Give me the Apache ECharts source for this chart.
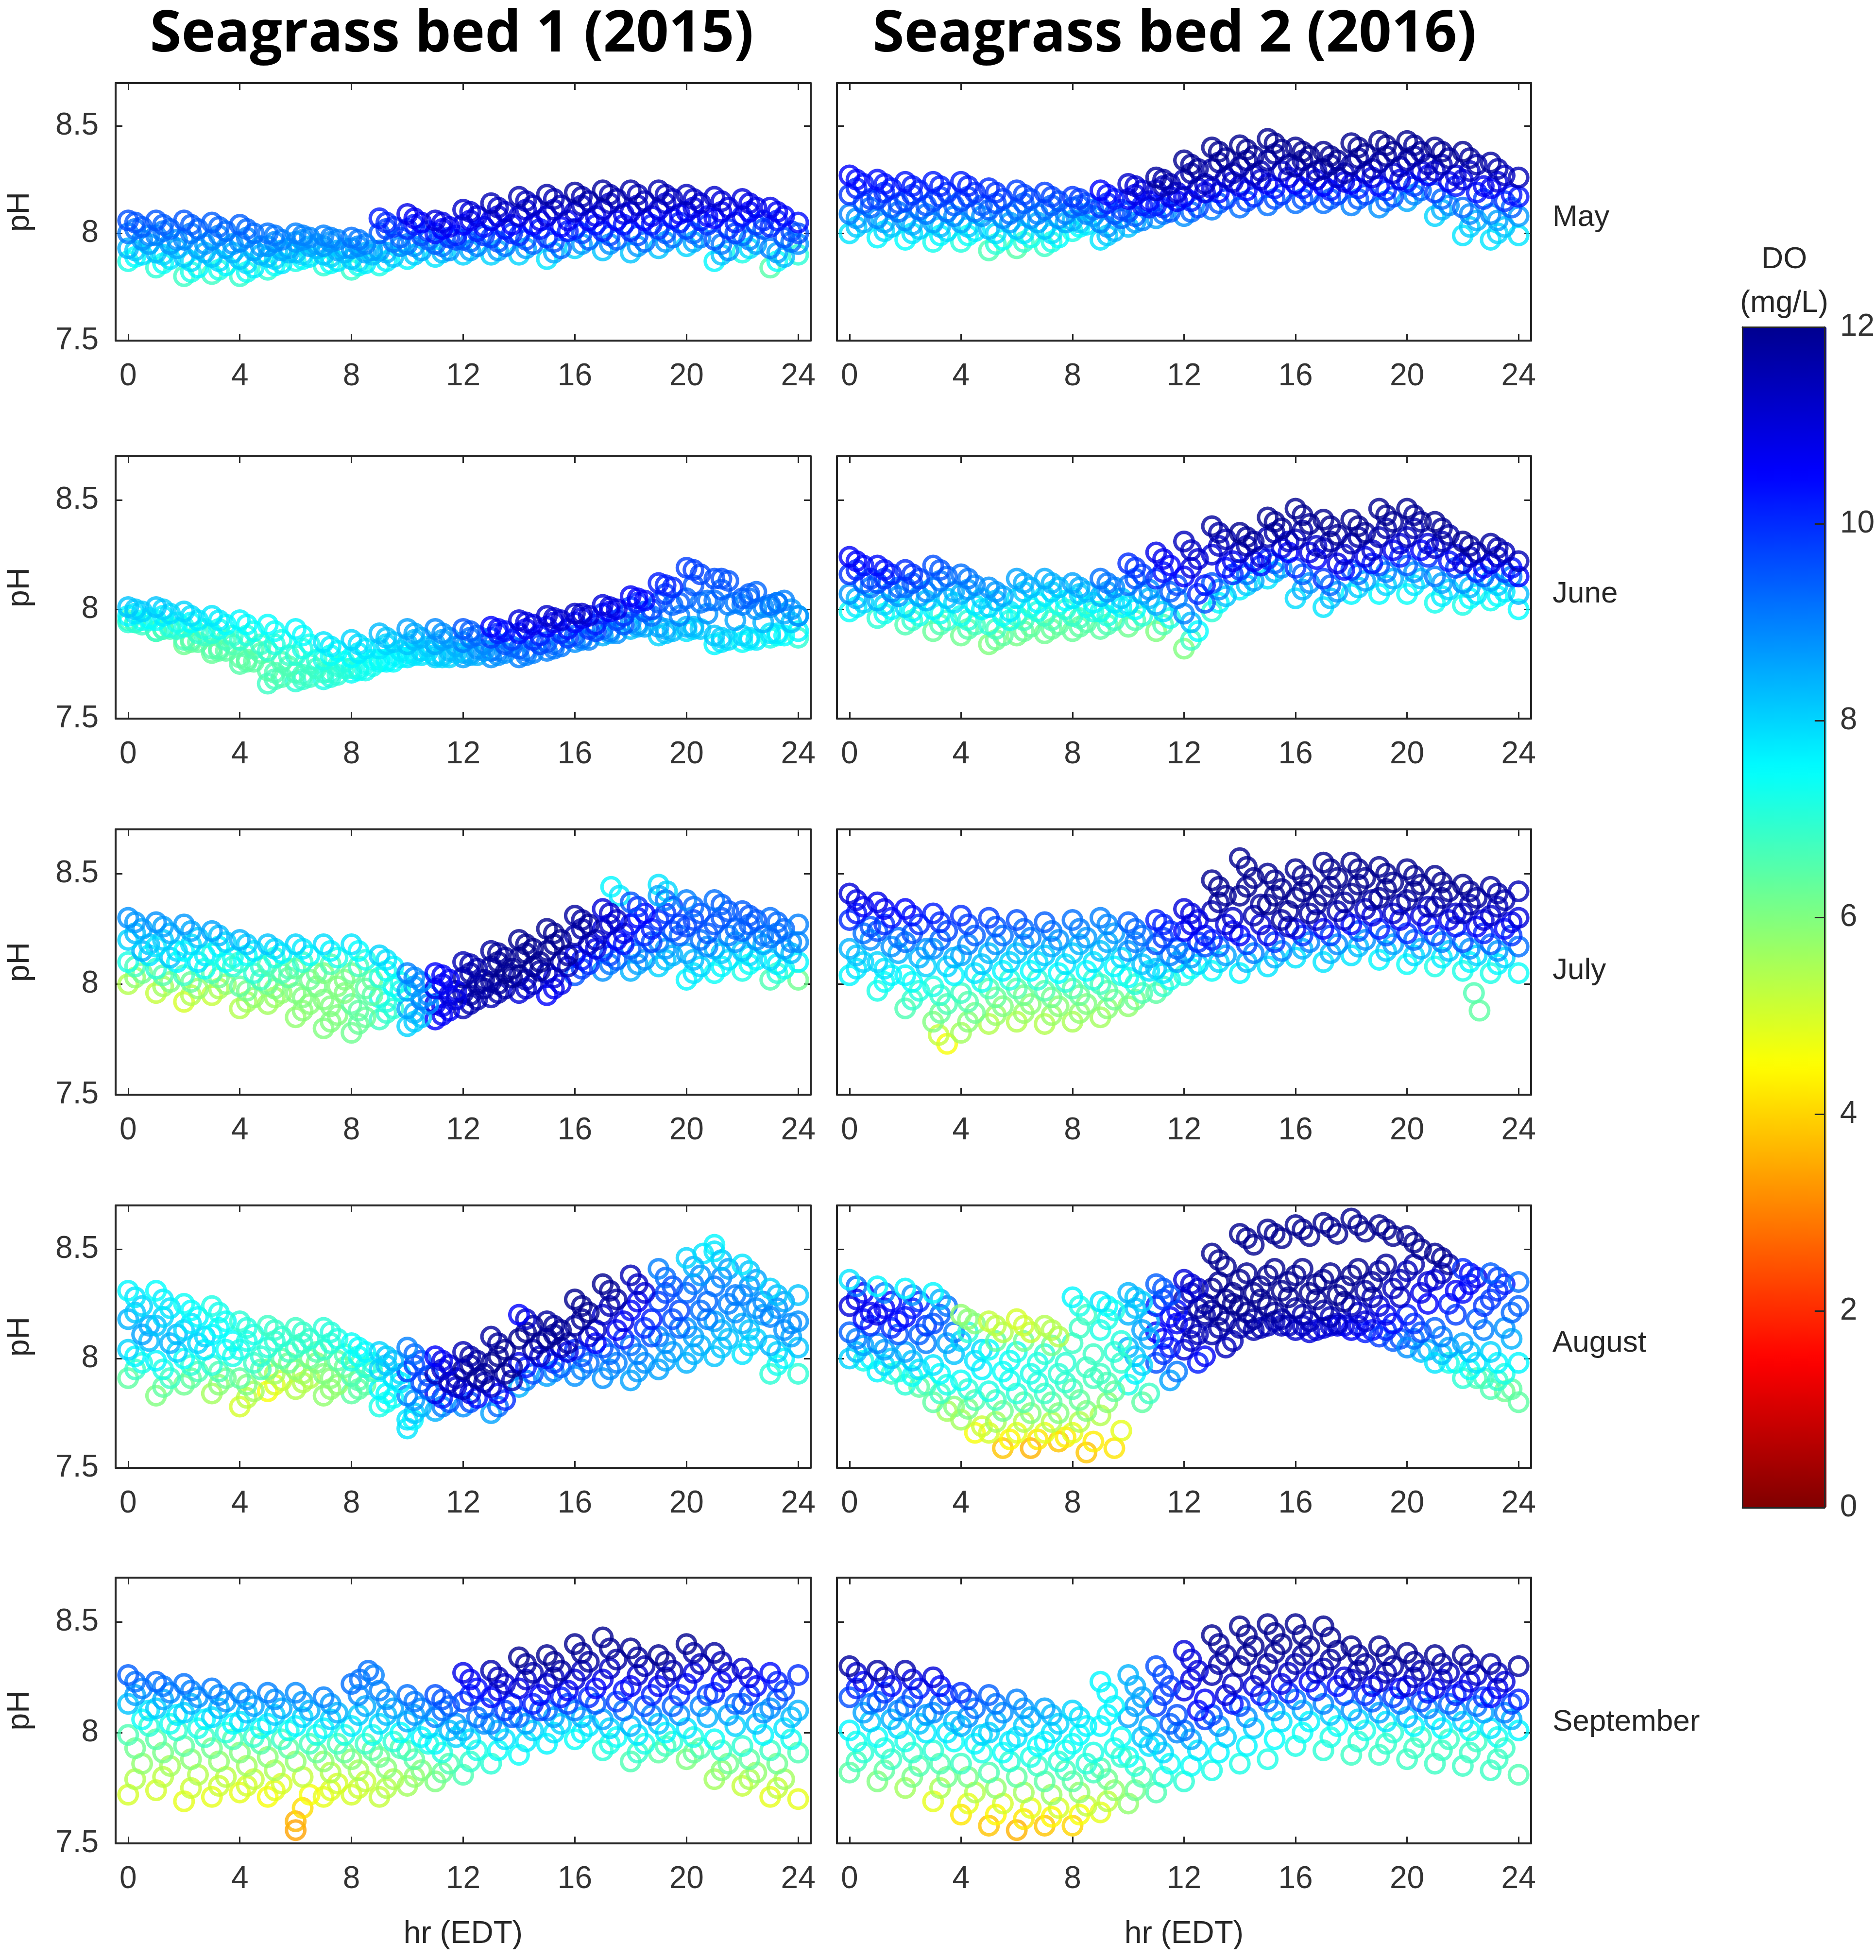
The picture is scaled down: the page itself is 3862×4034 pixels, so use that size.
<!DOCTYPE html>
<html><head><meta charset="utf-8">
<script src="https://cdn.jsdelivr.net/npm/echarts@6/dist/echarts.min.js"></script>
<style>html,body{margin:0;padding:0;background:#fff}#chart{width:3862px;height:4034px}</style>
</head><body><div id="chart"></div>
<script>
// ---------- axes / labels ----------
const HOURS = [0,1,2,3,4,5,6,7,8,9,10,11,12,13,14,15,16,17,18,19,20,21,22,23,24];
const HALF_HOURS = [0.5,1.5,2.5,3.5,4.5,5.5,6.5,7.5,8.5,9.5,10.5,11.5,12.5,13.5,14.5,15.5,16.5,17.5,18.5,19.5,20.5,21.5,22.5,23.5];
const QUARTER_HOURS = [0.25,1.25,2.25,3.25,4.25,5.25,6.25,7.25,8.25,9.25,10.25,11.25,12.25,13.25,14.25,15.25,16.25,17.25,18.25,19.25,20.25,21.25,22.25,23.25];
const THREE_QUARTER_HOURS = [0.75,1.75,2.75,3.75,4.75,5.75,6.75,7.75,8.75,9.75,10.75,11.75,12.75,13.75,14.75,15.75,16.75,17.75,18.75,19.75,20.75,21.75,22.75,23.75];
const HOUR_TICKS = [0,4,8,12,16,20,24];
const PH_TICKS = [7.5,8,8.5];
const MONTHS = ['May','June','July','August','September'];
const BEDS = ['Seagrass bed 1 (2015)','Seagrass bed 2 (2016)'];

// ---------- May ----------
const MAY_BED1_PH = [
 [8.06,8.06,8.06,8.05,8.04,8.00,8.00,7.99,7.98,8.07,8.09,8.06,8.11,8.14,8.17,8.18,8.19,8.20,8.20,8.20,8.18,8.17,8.16,8.12,8.05],
 [8.03,8.02,8.02,8.01,8.00,7.97,7.98,7.97,7.95,8.03,8.05,8.03,8.08,8.10,8.13,8.13,8.15,8.16,8.15,8.16,8.14,8.12,8.12,8.08],
 [8.00,7.99,7.97,7.97,7.96,7.94,7.96,7.94,7.93,8.00,8.02,8.00,8.04,8.06,8.08,8.08,8.10,8.11,8.10,8.11,8.10,8.07,8.08,8.03,8.00],
 [7.97,7.95,7.93,7.93,7.92,7.92,7.94,7.92,7.91,7.96,7.99,7.98,8.01,8.02,8.04,8.03,8.06,8.06,8.06,8.07,8.06,8.02,8.04,7.98],
 [7.93,7.91,7.89,7.89,7.88,7.89,7.91,7.90,7.88,7.92,7.95,7.95,7.97,7.98,7.99,7.98,8.02,8.01,8.01,8.02,8.02,7.97,7.99,7.93,7.95],
 [7.90,7.88,7.84,7.85,7.84,7.86,7.89,7.87,7.86,7.89,7.92,7.92,7.94,7.94,7.95,7.93,7.97,7.97,7.96,7.98,7.98,7.92,7.95,7.89],
 [7.87,7.84,7.80,7.81,7.80,7.83,7.87,7.85,7.83,7.85,7.88,7.89,7.90,7.90,7.90,7.88,7.93,7.92,7.91,7.93,7.94,7.87,7.91,7.84,7.90]
];
const MAY_BED1_DO = [
 [9.6,9.5,9.5,9.4,9.4,9.2,9.0,9.0,9.2,10.2,10.8,11.0,11.2,11.5,11.6,11.7,11.8,11.8,11.7,11.6,11.4,11.2,11.0,10.8,10.4],
 [9.4,9.3,9.3,9.2,9.2,9.0,8.9,8.9,9.0,9.9,10.5,10.7,10.9,11.2,11.3,11.4,11.5,11.5,11.4,11.3,11.1,10.9,10.7,10.4],
 [9.1,9.0,8.9,8.9,8.9,8.8,8.7,8.7,8.8,9.5,10.0,10.3,10.5,10.8,11.0,11.0,11.1,11.1,11.0,10.9,10.7,10.5,10.3,10.0,9.6],
 [8.8,8.7,8.6,8.6,8.6,8.5,8.5,8.5,8.5,9.1,9.6,9.9,10.1,10.3,10.5,10.5,10.6,10.6,10.5,10.4,10.2,10.0,9.8,9.5],
 [8.4,8.3,8.2,8.2,8.2,8.2,8.2,8.2,8.2,8.7,9.1,9.4,9.6,9.8,10.0,10.0,10.1,10.1,10.0,9.9,9.7,9.5,9.3,9.0,8.8],
 [7.9,7.8,7.6,7.6,7.7,7.8,7.8,7.8,7.7,8.2,8.6,8.8,9.0,9.2,9.3,9.3,9.4,9.4,9.3,9.2,9.0,8.8,8.6,8.3],
 [7.2,7.0,6.8,6.8,6.9,7.0,7.2,7.0,6.9,7.2,7.6,7.8,8.0,8.0,8.0,7.8,8.0,8.2,8.2,8.2,8.0,7.6,7.2,6.5,7.0]
];
const MAY_BED1_PH_Q = [
 [8.05,8.04,8.04,8.03,8.02,7.99,7.99,7.98,7.97,8.05,8.07,8.05,8.10,8.12,8.15,8.16,8.17,8.18,8.18,8.18,8.16,8.15,8.14,8.10],
 [8.02,8.01,8.00,7.99,7.98,7.96,7.97,7.96,7.94,8.02,8.04,8.02,8.06,8.08,8.11,8.11,8.13,8.14,8.13,8.14,8.12,8.10,8.10,8.06],
 [7.99,7.97,7.95,7.95,7.94,7.93,7.95,7.93,7.92,7.98,8.01,7.99,8.03,8.04,8.06,8.06,8.08,8.09,8.08,8.09,8.08,8.05,8.06,8.01],
 [7.95,7.93,7.91,7.91,7.90,7.91,7.93,7.91,7.90,7.94,7.97,7.97,7.99,8.00,8.02,8.01,8.04,8.04,8.04,8.05,8.04,8.00,8.02,7.96],
 [7.92,7.90,7.87,7.87,7.86,7.88,7.90,7.89,7.87,7.91,7.94,7.94,7.96,7.96,7.97,7.96,8.00,7.99,7.99,8.00,8.00,7.95,7.97,7.91],
 [7.89,7.86,7.82,7.83,7.82,7.85,7.88,7.86,7.85,7.87,7.90,7.91,7.92,7.92,7.93,7.91,7.95,7.95,7.94,7.96,7.96,7.90,7.93,7.87]
];
const MAY_BED1_DO_Q = [
 [9.5,9.4,9.4,9.3,9.3,9.1,9.0,9.0,9.1,10.0,10.6,10.8,11.0,11.3,11.4,11.5,11.6,11.6,11.5,11.4,11.2,11.0,10.8,10.6],
 [9.2,9.1,9.1,9.0,9.0,8.9,8.8,8.8,8.9,9.7,10.2,10.5,10.7,11.0,11.1,11.2,11.3,11.3,11.2,11.1,10.9,10.7,10.5,10.2],
 [8.9,8.8,8.7,8.7,8.7,8.6,8.6,8.6,8.6,9.3,9.8,10.1,10.3,10.5,10.7,10.7,10.8,10.8,10.7,10.6,10.4,10.2,10.0,9.7],
 [8.6,8.5,8.4,8.4,8.4,8.3,8.3,8.3,8.3,8.9,9.3,9.6,9.8,10.0,10.2,10.2,10.3,10.3,10.2,10.1,9.9,9.7,9.5,9.2],
 [8.1,8.0,7.9,7.9,7.9,8.0,8.0,8.0,7.9,8.4,8.8,9.1,9.3,9.5,9.6,9.6,9.7,9.7,9.6,9.5,9.3,9.1,8.9,8.6],
 [7.5,7.4,7.2,7.2,7.3,7.4,7.5,7.4,7.3,7.7,8.1,8.3,8.5,8.6,8.6,8.5,8.7,8.8,8.7,8.7,8.5,8.2,7.9,7.4]
];
const MAY_BED2_PH = [
 [8.27,8.25,8.24,8.24,8.24,8.21,8.20,8.19,8.17,8.20,8.23,8.26,8.34,8.40,8.41,8.44,8.40,8.38,8.42,8.43,8.43,8.40,8.38,8.33,8.26],
 [8.23,8.21,8.20,8.19,8.19,8.16,8.16,8.15,8.14,8.16,8.20,8.23,8.30,8.35,8.36,8.39,8.36,8.34,8.37,8.38,8.38,8.35,8.32,8.27],
 [8.18,8.16,8.15,8.15,8.15,8.11,8.11,8.11,8.12,8.12,8.16,8.20,8.25,8.30,8.31,8.34,8.31,8.30,8.32,8.33,8.34,8.29,8.25,8.21,8.17],
 [8.14,8.12,8.11,8.10,8.10,8.07,8.07,8.07,8.09,8.09,8.13,8.17,8.21,8.26,8.27,8.29,8.27,8.26,8.28,8.28,8.29,8.24,8.19,8.15],
 [8.09,8.07,8.06,8.05,8.05,8.02,8.02,8.02,8.06,8.05,8.10,8.13,8.17,8.21,8.22,8.23,8.23,8.22,8.23,8.22,8.24,8.19,8.12,8.09,8.08],
 [8.05,8.03,8.02,8.01,8.01,7.97,7.98,7.98,8.04,8.01,8.06,8.10,8.12,8.16,8.17,8.18,8.18,8.18,8.18,8.17,8.20,8.13,8.06,8.03],
 [8.00,7.98,7.97,7.96,7.96,7.92,7.93,7.94,8.01,7.97,8.03,8.07,8.08,8.11,8.12,8.13,8.14,8.14,8.13,8.12,8.15,8.08,7.99,7.97,7.99]
];
const MAY_BED2_DO = [
 [10.5,10.4,10.3,10.2,10.2,10.0,9.8,9.8,9.9,10.5,11.2,11.8,12.0,12.0,12.0,12.0,12.0,12.0,12.0,12.0,12.0,12.0,12.0,11.8,11.5],
 [10.2,10.1,10.0,9.9,9.9,9.7,9.5,9.5,9.6,10.2,10.9,11.5,11.8,11.9,11.9,11.9,11.9,11.9,11.9,11.9,11.8,11.7,11.6,11.3],
 [9.9,9.8,9.7,9.6,9.6,9.4,9.2,9.2,9.3,9.9,10.6,11.2,11.5,11.7,11.7,11.7,11.7,11.7,11.7,11.6,11.5,11.3,11.0,10.6,10.3],
 [9.5,9.4,9.3,9.2,9.1,8.9,8.8,8.8,8.9,9.5,10.2,10.8,11.1,11.3,11.3,11.2,11.2,11.2,11.2,11.1,11.0,10.7,10.3,9.9],
 [9.0,8.9,8.8,8.6,8.5,8.3,8.2,8.2,8.4,9.0,9.7,10.3,10.6,10.8,10.8,10.6,10.5,10.5,10.5,10.4,10.2,9.8,9.3,8.9,8.7],
 [8.4,8.2,8.1,7.9,7.7,7.4,7.3,7.5,7.8,8.4,9.0,9.5,9.7,9.9,10.0,9.9,9.8,9.8,9.7,9.6,9.3,8.8,8.4,8.2],
 [7.8,7.6,7.5,7.3,7.1,6.6,6.5,6.8,7.2,7.8,8.2,8.6,8.8,9.0,9.2,9.2,9.2,9.2,9.0,8.8,8.5,8.0,7.8,7.8,7.8]
];
const MAY_BED2_PH_Q = [
 [8.25,8.23,8.22,8.22,8.22,8.19,8.18,8.17,8.16,8.18,8.22,8.25,8.32,8.38,8.39,8.42,8.38,8.36,8.40,8.41,8.41,8.38,8.35,8.30],
 [8.21,8.19,8.18,8.17,8.17,8.14,8.14,8.13,8.13,8.14,8.18,8.22,8.28,8.33,8.34,8.37,8.34,8.32,8.35,8.36,8.36,8.32,8.29,8.24],
 [8.16,8.14,8.13,8.13,8.13,8.09,8.09,8.09,8.11,8.11,8.15,8.19,8.23,8.28,8.29,8.32,8.29,8.28,8.30,8.31,8.32,8.27,8.22,8.18],
 [8.12,8.10,8.09,8.08,8.08,8.05,8.05,8.05,8.08,8.07,8.12,8.15,8.19,8.24,8.25,8.26,8.25,8.24,8.26,8.25,8.27,8.22,8.16,8.12],
 [8.07,8.05,8.04,8.03,8.03,8.00,8.00,8.00,8.05,8.03,8.08,8.12,8.15,8.19,8.20,8.21,8.21,8.20,8.21,8.20,8.22,8.16,8.09,8.06],
 [8.03,8.01,8.00,7.99,7.99,7.95,7.96,7.96,8.03,7.99,8.05,8.09,8.10,8.14,8.15,8.16,8.16,8.16,8.16,8.15,8.18,8.11,8.03,8.00]
];
const MAY_BED2_DO_Q = [
 [10.4,10.3,10.2,10.1,10.1,9.9,9.7,9.7,9.8,10.4,11.1,11.7,11.9,12.0,12.0,12.0,12.0,12.0,12.0,12.0,11.9,11.9,11.8,11.6],
 [10.1,10.0,9.9,9.8,9.8,9.6,9.4,9.4,9.5,10.1,10.8,11.4,11.7,11.8,11.8,11.8,11.8,11.8,11.8,11.8,11.7,11.5,11.3,11.0],
 [9.7,9.6,9.5,9.4,9.4,9.2,9.0,9.0,9.1,9.7,10.4,11.0,11.3,11.5,11.5,11.5,11.5,11.5,11.5,11.4,11.3,11.0,10.7,10.3],
 [9.3,9.2,9.1,8.9,8.8,8.6,8.5,8.5,8.7,9.3,10.0,10.6,10.9,11.1,11.1,10.9,10.9,10.9,10.9,10.8,10.6,10.3,9.8,9.4],
 [8.7,8.6,8.5,8.3,8.1,7.9,7.8,7.9,8.1,8.7,9.4,9.9,10.2,10.4,10.4,10.3,10.2,10.2,10.1,10.0,9.8,9.3,8.9,8.6],
 [8.1,7.9,7.8,7.6,7.4,7.0,6.9,7.2,7.5,8.1,8.6,9.1,9.3,9.5,9.6,9.6,9.5,9.5,9.4,9.2,8.9,8.4,8.1,8.0]
];

// ---------- June ----------
const JUNE_BED1_PH = [
 [8.01,8.01,7.99,7.97,7.95,7.93,7.91,7.85,7.86,7.89,7.91,7.91,7.91,7.92,7.95,7.97,7.98,8.02,8.06,8.12,8.19,8.14,8.05,8.02,7.97],
 [7.99,7.98,7.95,7.93,7.90,7.86,7.84,7.81,7.82,7.85,7.87,7.87,7.88,7.90,7.93,7.95,7.97,8.00,8.04,8.10,8.16,8.13,8.08,8.04],
 [7.97,7.95,7.92,7.89,7.86,7.81,7.79,7.77,7.78,7.82,7.84,7.84,7.85,7.87,7.89,7.92,7.94,7.98,8.01,8.03,8.05,8.04,8.02,8.01,7.97],
 [7.95,7.92,7.89,7.86,7.82,7.76,7.75,7.74,7.75,7.79,7.81,7.81,7.82,7.84,7.86,7.89,7.91,7.95,7.99,8.02,8.03,8.02,8.00,7.98],
 [7.94,7.90,7.86,7.82,7.78,7.72,7.71,7.71,7.73,7.77,7.80,7.79,7.80,7.81,7.82,7.85,7.88,7.91,7.94,7.92,7.92,7.88,7.88,7.89,7.90],
 [7.93,7.91,7.85,7.81,7.76,7.69,7.69,7.70,7.72,7.76,7.79,7.78,7.79,7.80,7.80,7.83,7.86,7.89,7.92,7.90,7.91,7.86,7.86,7.88],
 [7.95,7.90,7.84,7.80,7.75,7.66,7.67,7.68,7.71,7.76,7.78,7.78,7.78,7.78,7.78,7.81,7.85,7.88,7.91,7.88,7.90,7.84,7.85,7.87,7.87]
];
const JUNE_BED1_DO = [
 [8.2,8.2,8.0,7.8,7.6,7.5,7.6,7.8,8.0,8.3,8.6,8.9,9.5,10.5,11.0,11.2,11.3,11.0,10.6,10.2,9.8,9.6,9.4,9.2,8.8],
 [8.0,7.9,7.7,7.5,7.3,7.2,7.3,7.5,7.8,8.1,8.4,8.7,9.3,10.3,10.8,11.0,11.0,10.8,10.4,10.0,9.7,9.5,9.3,9.0],
 [7.6,7.4,7.2,7.0,6.9,6.9,7.0,7.2,7.5,7.8,8.2,8.5,9.0,9.8,10.3,10.5,10.4,10.1,9.8,9.5,9.3,9.2,9.0,8.8,8.4],
 [7.3,7.1,6.9,6.7,6.6,6.6,6.8,7.0,7.3,7.6,8.0,8.3,8.8,9.5,9.9,10.0,9.9,9.7,9.5,9.3,9.1,9.0,8.8,8.5],
 [7.0,6.8,6.6,6.5,6.4,6.5,6.7,6.9,7.2,7.5,7.8,8.1,8.5,9.1,9.4,9.5,9.4,9.2,8.9,8.6,8.4,8.2,8.0,7.8,7.6],
 [6.8,6.6,6.4,6.4,6.4,6.6,6.8,7.0,7.3,7.5,7.8,8.0,8.4,8.8,9.0,9.1,9.0,8.8,8.5,8.3,8.1,7.9,7.7,7.5],
 [6.6,6.4,6.2,6.3,6.5,6.8,7.0,7.2,7.4,7.6,7.8,8.0,8.6,8.8,9.0,9.0,8.8,8.4,8.2,8.0,7.8,7.6,7.4,7.2,7.0]
];
const JUNE_BED1_PH_Q = [
 [8.00,8.00,7.97,7.95,7.93,7.90,7.88,7.83,7.84,7.87,7.89,7.89,7.90,7.91,7.94,7.96,7.98,8.01,8.05,8.11,8.18,8.14,8.07,8.03],
 [7.98,7.97,7.94,7.91,7.88,7.84,7.82,7.79,7.80,7.84,7.86,7.86,7.87,7.89,7.91,7.94,7.96,7.99,8.03,8.07,8.11,8.09,8.05,8.03],
 [7.96,7.94,7.91,7.88,7.84,7.79,7.77,7.76,7.77,7.81,7.83,7.83,7.84,7.86,7.88,7.91,7.93,7.97,8.00,8.03,8.04,8.03,8.01,8.00],
 [7.95,7.91,7.88,7.84,7.80,7.74,7.73,7.73,7.74,7.78,7.81,7.80,7.81,7.83,7.84,7.87,7.90,7.93,7.97,7.97,7.98,7.95,7.94,7.94],
 [7.94,7.91,7.86,7.82,7.77,7.71,7.70,7.71,7.73,7.77,7.80,7.79,7.80,7.81,7.81,7.84,7.87,7.90,7.93,7.91,7.92,7.87,7.87,7.89],
 [7.94,7.91,7.85,7.81,7.76,7.68,7.68,7.69,7.72,7.76,7.79,7.78,7.79,7.79,7.79,7.82,7.86,7.89,7.92,7.89,7.91,7.85,7.86,7.88]
];
const JUNE_BED1_DO_Q = [
 [8.1,8.0,7.9,7.7,7.5,7.4,7.5,7.7,7.9,8.2,8.5,8.8,9.4,10.4,10.9,11.1,11.2,10.9,10.5,10.1,9.8,9.6,9.4,9.1],
 [7.8,7.7,7.5,7.3,7.1,7.1,7.2,7.4,7.7,8.0,8.3,8.6,9.2,10.1,10.6,10.8,10.7,10.5,10.1,9.8,9.5,9.4,9.2,8.9],
 [7.5,7.3,7.1,6.9,6.8,6.8,6.9,7.1,7.4,7.7,8.1,8.4,8.9,9.7,10.1,10.3,10.2,9.9,9.7,9.4,9.2,9.1,8.9,8.7],
 [7.2,7.0,6.8,6.6,6.5,6.6,6.8,7.0,7.3,7.6,7.9,8.2,8.7,9.3,9.7,9.8,9.7,9.5,9.2,9.0,8.8,8.6,8.4,8.2],
 [6.9,6.7,6.5,6.5,6.4,6.6,6.8,7.0,7.3,7.5,7.8,8.1,8.5,9.0,9.2,9.3,9.2,9.0,8.7,8.5,8.3,8.1,7.9,7.7],
 [6.7,6.5,6.3,6.4,6.5,6.7,6.9,7.1,7.4,7.6,7.8,8.0,8.5,8.8,9.0,9.1,8.9,8.6,8.4,8.2,8.0,7.8,7.6,7.4]
];
const JUNE_BED2_PH = [
 [8.24,8.20,8.18,8.20,8.16,8.10,8.14,8.14,8.12,8.14,8.21,8.26,8.31,8.38,8.35,8.42,8.46,8.41,8.41,8.46,8.46,8.40,8.31,8.30,8.22],
 [8.20,8.16,8.14,8.15,8.11,8.06,8.10,8.10,8.08,8.10,8.16,8.20,8.23,8.32,8.31,8.37,8.39,8.34,8.35,8.40,8.40,8.34,8.26,8.26],
 [8.16,8.12,8.10,8.10,8.07,8.01,8.05,8.06,8.05,8.06,8.11,8.14,8.15,8.25,8.26,8.33,8.32,8.28,8.30,8.33,8.33,8.28,8.21,8.21,8.15],
 [8.12,8.08,8.06,8.05,8.02,7.97,8.01,8.02,8.01,8.03,8.07,8.08,8.07,8.19,8.22,8.28,8.26,8.21,8.24,8.27,8.27,8.22,8.17,8.17],
 [8.07,8.04,8.01,8.00,7.97,7.93,7.97,7.97,7.97,7.99,8.02,8.02,7.98,8.12,8.18,8.23,8.19,8.14,8.18,8.20,8.20,8.15,8.12,8.13,8.07],
 [8.03,8.00,7.97,7.95,7.93,7.88,7.92,7.93,7.94,7.95,7.97,7.96,7.90,8.06,8.13,8.19,8.12,8.08,8.13,8.14,8.14,8.09,8.07,8.08],
 [7.99,7.96,7.93,7.90,7.88,7.84,7.88,7.89,7.90,7.91,7.92,7.90,7.82,7.99,8.09,8.14,8.05,8.01,8.07,8.07,8.07,8.03,8.02,8.04,8.00]
];
const JUNE_BED2_DO = [
 [10.6,10.4,10.0,9.6,9.2,8.8,8.6,8.5,8.6,9.2,10.0,10.8,11.4,11.8,12.0,12.0,12.0,12.0,12.0,12.0,12.0,12.0,12.0,11.8,11.5],
 [10.3,10.1,9.7,9.3,8.9,8.5,8.3,8.2,8.3,8.9,9.7,10.5,11.1,11.5,11.8,11.9,11.9,11.9,11.9,11.9,11.8,11.7,11.6,11.4],
 [9.9,9.6,9.2,8.8,8.4,8.0,7.8,7.7,7.8,8.4,9.2,10.0,10.6,11.0,11.3,11.5,11.5,11.5,11.5,11.5,11.4,11.2,11.0,10.8,10.5],
 [9.4,9.0,8.6,8.2,7.8,7.4,7.3,7.2,7.3,7.8,8.6,9.4,10.0,10.4,10.7,10.9,10.9,10.9,10.8,10.7,10.5,10.3,10.0,9.7],
 [8.8,8.4,8.0,7.6,7.3,7.0,6.9,6.8,6.9,7.3,7.9,8.5,9.0,9.5,9.8,10.0,10.0,9.9,9.8,9.6,9.4,9.1,8.8,8.5,8.3],
 [8.0,7.6,7.2,6.9,6.7,6.4,6.4,6.4,6.5,6.8,7.0,7.2,7.5,8.2,8.6,8.8,8.8,8.7,8.6,8.4,8.2,8.0,7.8,7.7],
 [7.4,7.0,6.6,6.3,6.2,6.0,6.1,6.2,6.3,6.4,6.2,6.0,6.0,7.0,7.6,7.8,7.9,7.8,7.6,7.5,7.4,7.3,7.2,7.3,7.5]
];
const JUNE_BED2_PH_Q = [
 [8.22,8.18,8.16,8.18,8.14,8.08,8.12,8.12,8.10,8.12,8.19,8.23,8.27,8.35,8.33,8.40,8.43,8.38,8.38,8.43,8.43,8.37,8.29,8.28],
 [8.18,8.14,8.12,8.13,8.09,8.04,8.08,8.08,8.07,8.08,8.14,8.17,8.19,8.29,8.29,8.35,8.36,8.31,8.33,8.37,8.37,8.31,8.24,8.24],
 [8.14,8.10,8.08,8.08,8.05,7.99,8.03,8.04,8.03,8.05,8.09,8.11,8.11,8.22,8.24,8.31,8.29,8.25,8.27,8.30,8.30,8.25,8.19,8.19],
 [8.10,8.06,8.04,8.03,8.00,7.95,7.99,8.00,7.99,8.01,8.05,8.05,8.03,8.16,8.20,8.26,8.23,8.18,8.21,8.24,8.24,8.19,8.15,8.15],
 [8.05,8.02,7.99,7.98,7.95,7.91,7.95,7.95,7.96,7.97,8.00,7.99,7.94,8.09,8.16,8.21,8.16,8.11,8.16,8.17,8.17,8.12,8.10,8.11],
 [8.01,7.98,7.95,7.93,7.91,7.86,7.90,7.91,7.92,7.93,7.95,7.93,7.86,8.03,8.11,8.17,8.09,8.05,8.10,8.11,8.11,8.06,8.05,8.06]
];
const JUNE_BED2_DO_Q = [
 [10.5,10.3,9.9,9.5,9.1,8.7,8.5,8.4,8.5,9.1,9.9,10.7,11.3,11.7,11.9,12.0,12.0,12.0,12.0,12.0,11.9,11.9,11.8,11.6],
 [10.1,9.9,9.5,9.1,8.7,8.3,8.1,8.0,8.1,8.7,9.5,10.3,10.9,11.3,11.6,11.7,11.7,11.7,11.7,11.7,11.6,11.5,11.3,11.1],
 [9.7,9.3,8.9,8.5,8.1,7.7,7.6,7.5,7.6,8.1,8.9,9.7,10.3,10.7,11.0,11.2,11.2,11.2,11.2,11.1,11.0,10.8,10.5,10.3],
 [9.1,8.7,8.3,7.9,7.6,7.2,7.1,7.0,7.1,7.6,8.3,9.0,9.5,10.0,10.3,10.5,10.5,10.4,10.3,10.2,10.0,9.7,9.4,9.1],
 [8.4,8.0,7.6,7.3,7.0,6.7,6.7,6.6,6.7,7.1,7.5,7.9,8.3,8.9,9.2,9.4,9.4,9.3,9.2,9.0,8.8,8.6,8.3,8.1],
 [7.7,7.3,6.9,6.6,6.5,6.2,6.3,6.3,6.4,6.6,6.6,6.6,6.8,7.6,8.1,8.3,8.4,8.3,8.1,8.0,7.8,7.7,7.5,7.5]
];

// ---------- July ----------
const JULY_BED1_PH = [
 [8.30,8.28,8.27,8.24,8.20,8.18,8.18,8.18,8.18,8.13,8.05,8.05,8.10,8.15,8.20,8.25,8.31,8.34,8.37,8.40,8.38,8.38,8.33,8.30,8.27],
 [8.25,8.23,8.21,8.19,8.15,8.14,8.13,8.12,8.11,8.08,8.01,8.02,8.07,8.12,8.16,8.20,8.27,8.29,8.32,8.35,8.32,8.33,8.29,8.25],
 [8.20,8.17,8.15,8.14,8.10,8.09,8.07,8.05,8.05,8.03,7.97,7.98,8.03,8.08,8.12,8.15,8.22,8.25,8.27,8.29,8.26,8.27,8.24,8.21,8.19],
 [8.15,8.12,8.10,8.10,8.05,8.05,8.02,7.99,7.98,7.99,7.93,7.95,8.00,8.05,8.08,8.10,8.18,8.20,8.22,8.24,8.20,8.22,8.20,8.16],
 [8.10,8.07,8.04,8.05,7.99,8.00,7.96,7.93,7.91,7.94,7.89,7.91,7.96,8.01,8.04,8.05,8.13,8.15,8.16,8.19,8.14,8.16,8.15,8.11,8.10],
 [8.05,8.01,7.98,8.00,7.94,7.96,7.91,7.86,7.85,7.89,7.85,7.88,7.93,7.98,8.00,8.00,8.09,8.11,8.11,8.13,8.08,8.11,8.11,8.07],
 [8.00,7.96,7.92,7.95,7.89,7.91,7.85,7.80,7.78,7.84,7.81,7.84,7.89,7.94,7.96,7.95,8.04,8.06,8.06,8.08,8.02,8.05,8.06,8.02,8.02]
];
const JULY_BED1_DO = [
 [8.8,8.8,8.7,8.6,8.4,8.2,8.0,7.9,7.8,8.0,9.0,10.5,11.5,11.8,12.0,12.0,11.8,11.0,9.5,8.5,9.0,9.2,9.4,9.2,9.0],
 [8.5,8.4,8.2,8.0,7.8,7.6,7.4,7.2,7.2,7.6,8.8,10.6,11.6,11.9,12.0,12.0,11.8,11.3,10.5,9.8,9.6,9.5,9.5,9.3],
 [8.0,7.8,7.5,7.2,6.9,6.6,6.3,6.0,6.2,7.0,8.5,10.8,11.8,12.0,12.0,11.9,11.6,11.0,10.3,9.9,9.7,9.5,9.3,9.1,8.9],
 [8.4,8.2,7.8,7.4,7.0,6.6,6.2,6.0,6.4,7.4,9.0,11.0,11.8,12.0,11.9,11.6,11.2,10.6,10.0,9.6,9.2,9.0,8.8,8.6],
 [7.2,7.0,6.8,6.6,6.4,6.2,6.0,6.0,6.4,7.2,8.6,10.8,11.7,11.8,11.6,11.2,10.6,10.0,9.4,9.0,8.6,8.4,8.2,8.0,7.6],
 [6.2,6.0,5.8,5.8,5.8,5.8,5.9,6.0,6.3,7.0,8.2,10.6,11.6,11.7,11.3,10.8,10.0,9.4,8.8,8.4,8.0,7.8,7.6,7.3],
 [5.4,5.2,5.0,5.2,5.4,5.6,5.8,6.0,6.2,6.8,8.0,10.5,11.5,11.5,11.0,10.5,9.5,8.8,8.4,8.0,7.6,7.4,7.2,6.6,6.2]
];
const JULY_BED1_PH_Q = [
 [8.28,8.26,8.24,8.22,8.18,8.16,8.16,8.15,8.15,8.11,8.03,8.04,8.09,8.14,8.18,8.23,8.29,8.32,8.35,8.38,8.35,8.36,8.31,8.28],
 [8.23,8.20,8.18,8.17,8.13,8.12,8.10,8.09,8.08,8.06,7.99,8.00,8.05,8.10,8.14,8.18,8.25,8.27,8.30,8.32,8.29,8.30,8.27,8.23],
 [8.18,8.15,8.13,8.12,8.08,8.07,8.05,8.02,8.02,8.01,7.95,7.97,8.02,8.07,8.10,8.13,8.20,8.23,8.25,8.27,8.23,8.25,8.22,8.19],
 [8.13,8.10,8.07,8.08,8.02,8.03,7.99,7.96,7.95,7.97,7.91,7.93,7.98,8.03,8.06,8.08,8.16,8.18,8.19,8.22,8.17,8.19,8.18,8.14],
 [8.08,8.04,8.01,8.03,7.97,7.98,7.94,7.90,7.88,7.92,7.87,7.90,7.95,8.00,8.02,8.03,8.11,8.13,8.14,8.16,8.11,8.14,8.13,8.09],
 [8.03,7.99,7.95,7.98,7.92,7.94,7.88,7.83,7.82,7.87,7.83,7.86,7.91,7.96,7.98,7.98,8.07,8.09,8.09,8.11,8.05,8.08,8.09,8.05]
];
const JULY_BED1_DO_Q = [
 [8.7,8.6,8.5,8.3,8.1,7.9,7.7,7.6,7.5,7.8,8.9,10.6,11.6,11.9,12.0,12.0,11.8,11.2,10.0,9.2,9.3,9.4,9.5,9.3],
 [8.3,8.1,7.9,7.6,7.4,7.1,6.9,6.6,6.7,7.3,8.7,10.7,11.7,12.0,12.0,12.0,11.7,11.2,10.4,9.9,9.7,9.5,9.4,9.2],
 [8.2,8.0,7.7,7.3,7.0,6.6,6.3,6.0,6.3,7.2,8.8,10.9,11.8,12.0,12.0,11.8,11.4,10.8,10.2,9.8,9.5,9.3,9.1,8.9],
 [7.8,7.6,7.3,7.0,6.7,6.4,6.1,6.0,6.4,7.3,8.8,10.9,11.8,11.9,11.8,11.4,10.9,10.3,9.7,9.3,8.9,8.7,8.5,8.3],
 [6.7,6.5,6.3,6.2,6.1,6.0,6.0,6.0,6.4,7.1,8.4,10.7,11.7,11.8,11.5,11.0,10.3,9.7,9.1,8.7,8.3,8.1,7.9,7.7],
 [5.8,5.6,5.4,5.5,5.6,5.7,5.9,6.0,6.3,6.9,8.1,10.6,11.6,11.6,11.2,10.7,9.8,9.1,8.6,8.2,7.8,7.6,7.4,7.0]
];
const JULY_BED1_EXTRA = [[17.3,8.44,7.6],[17.6,8.40,7.8],[19.0,8.45,7.8],[19.3,8.42,8.0]];
const JULY_BED2_PH = [
 [8.41,8.37,8.34,8.32,8.31,8.30,8.29,8.28,8.29,8.30,8.28,8.29,8.34,8.47,8.57,8.50,8.52,8.55,8.55,8.53,8.52,8.49,8.45,8.44,8.42],
 [8.35,8.30,8.27,8.24,8.22,8.22,8.21,8.20,8.21,8.23,8.22,8.24,8.29,8.40,8.48,8.43,8.45,8.48,8.48,8.46,8.45,8.42,8.39,8.38],
 [8.29,8.24,8.19,8.16,8.13,8.14,8.14,8.13,8.14,8.15,8.15,8.18,8.24,8.33,8.40,8.36,8.39,8.40,8.41,8.39,8.38,8.35,8.32,8.31,8.30],
 [8.23,8.17,8.12,8.08,8.05,8.06,8.06,8.05,8.06,8.08,8.09,8.13,8.19,8.27,8.31,8.29,8.32,8.33,8.34,8.32,8.31,8.29,8.26,8.25],
 [8.16,8.10,8.04,7.99,7.96,7.98,7.98,7.97,7.98,8.00,8.03,8.07,8.14,8.20,8.22,8.22,8.25,8.25,8.27,8.25,8.23,8.22,8.19,8.18,8.17],
 [8.10,8.04,7.97,7.91,7.87,7.90,7.91,7.90,7.91,7.93,7.96,8.02,8.09,8.13,8.14,8.15,8.19,8.18,8.20,8.18,8.16,8.15,8.13,8.12],
 [8.04,7.97,7.89,7.83,7.78,7.82,7.83,7.82,7.83,7.85,7.90,7.96,8.04,8.06,8.05,8.08,8.12,8.10,8.13,8.11,8.09,8.08,8.06,8.05,8.05]
];
const JULY_BED2_DO = [
 [11.0,10.8,10.5,10.2,10.0,9.8,9.6,9.4,9.2,9.0,9.4,10.2,11.0,12.0,12.0,12.0,12.0,12.0,12.0,12.0,12.0,12.0,12.0,11.8,11.5],
 [10.6,10.3,10.0,9.7,9.4,9.2,9.0,8.8,8.7,8.7,9.2,10.0,10.8,11.9,12.0,12.0,12.0,12.0,12.0,12.0,12.0,11.9,11.8,11.6],
 [10.0,9.6,9.2,8.8,8.5,8.3,8.2,8.1,8.1,8.2,8.8,9.6,10.5,11.6,12.0,12.0,12.0,12.0,12.0,11.9,11.8,11.6,11.4,11.2,11.0],
 [9.2,8.8,8.4,8.0,7.8,7.6,7.5,7.5,7.5,7.6,8.2,9.0,10.0,11.0,11.6,11.8,11.8,11.6,11.4,11.2,11.0,10.8,10.6,10.4],
 [8.4,8.0,7.6,7.2,6.8,6.6,6.5,6.5,6.5,6.7,7.4,8.2,9.2,10.2,10.6,10.8,10.8,10.6,10.4,10.2,10.0,9.8,9.6,9.4,9.2],
 [8.0,7.6,7.1,6.6,6.2,6.0,5.9,5.9,6.0,6.2,6.6,7.3,8.0,8.6,9.0,9.0,9.0,8.9,8.8,8.6,8.4,8.2,8.0,8.0],
 [7.6,7.2,6.6,6.0,5.6,5.4,5.4,5.4,5.5,5.6,5.8,6.4,7.0,7.4,7.6,7.8,7.8,7.8,7.8,7.6,7.4,7.2,7.2,7.2,7.4]
];
const JULY_BED2_PH_Q = [
 [8.38,8.34,8.31,8.28,8.27,8.26,8.25,8.24,8.25,8.27,8.25,8.27,8.32,8.44,8.53,8.47,8.49,8.52,8.52,8.50,8.49,8.46,8.42,8.41],
 [8.32,8.27,8.23,8.20,8.18,8.18,8.18,8.17,8.18,8.19,8.19,8.21,8.27,8.37,8.44,8.40,8.42,8.44,8.45,8.43,8.42,8.39,8.36,8.35],
 [8.26,8.21,8.16,8.12,8.09,8.10,8.10,8.09,8.10,8.12,8.12,8.16,8.22,8.30,8.36,8.33,8.36,8.37,8.38,8.36,8.35,8.32,8.29,8.28],
 [8.20,8.14,8.08,8.04,8.01,8.02,8.02,8.01,8.02,8.04,8.06,8.10,8.17,8.24,8.27,8.26,8.29,8.29,8.31,8.29,8.27,8.26,8.23,8.22],
 [8.13,8.07,8.01,7.95,7.92,7.94,7.95,7.94,7.95,7.97,8.00,8.05,8.12,8.17,8.18,8.19,8.22,8.22,8.24,8.22,8.20,8.19,8.16,8.15],
 [8.07,8.01,7.93,7.87,7.83,7.86,7.87,7.86,7.87,7.89,7.93,7.99,8.07,8.10,8.10,8.12,8.16,8.14,8.17,8.15,8.13,8.12,8.10,8.09]
];
const JULY_BED2_DO_Q = [
 [10.8,10.6,10.3,10.0,9.7,9.5,9.3,9.1,9.0,8.9,9.3,10.1,10.9,12.0,12.0,12.0,12.0,12.0,12.0,12.0,12.0,12.0,11.9,11.7],
 [10.3,10.0,9.6,9.3,9.0,8.8,8.6,8.5,8.4,8.5,9.0,9.8,10.7,11.8,12.0,12.0,12.0,12.0,12.0,12.0,11.9,11.8,11.6,11.4],
 [9.6,9.2,8.8,8.4,8.2,8.0,7.9,7.8,7.8,7.9,8.5,9.3,10.3,11.3,11.8,11.9,11.9,11.8,11.7,11.6,11.4,11.2,11.0,10.8],
 [8.8,8.4,8.0,7.6,7.3,7.1,7.0,7.0,7.0,7.2,7.8,8.6,9.6,10.6,11.1,11.3,11.3,11.1,10.9,10.7,10.5,10.3,10.1,9.9],
 [8.2,7.8,7.4,6.9,6.5,6.3,6.2,6.2,6.3,6.5,7.0,7.8,8.6,9.4,9.8,9.9,9.9,9.8,9.6,9.4,9.2,9.0,8.8,8.7],
 [7.8,7.4,6.9,6.3,5.9,5.7,5.7,5.7,5.8,5.9,6.2,6.9,7.5,8.0,8.3,8.4,8.4,8.4,8.3,8.1,7.9,7.7,7.6,7.6]
];
const JULY_BED2_EXTRA = [[3.5,7.73,4.6],[3.2,7.77,5.2],[22.4,7.96,6.6],[22.6,7.88,6.4]];

// ---------- August ----------
const AUGUST_BED1_PH = [
 [8.31,8.31,8.25,8.24,8.17,8.15,8.14,8.14,8.07,8.03,8.05,8.01,8.03,8.10,8.20,8.17,8.27,8.34,8.38,8.41,8.46,8.49,8.43,8.32,8.29],
 [8.24,8.23,8.19,8.17,8.11,8.10,8.09,8.09,8.03,7.99,7.99,7.97,7.99,8.04,8.15,8.13,8.21,8.27,8.30,8.33,8.38,8.41,8.36,8.26],
 [8.18,8.15,8.13,8.11,8.04,8.05,8.05,8.04,7.99,7.95,7.94,7.93,7.95,7.98,8.09,8.09,8.15,8.20,8.22,8.26,8.30,8.33,8.29,8.19,8.17],
 [8.11,8.07,8.07,8.04,7.98,8.00,8.00,7.99,7.96,7.91,7.89,7.89,7.91,7.93,8.04,8.05,8.10,8.13,8.14,8.18,8.22,8.25,8.23,8.13],
 [8.04,7.99,8.00,7.97,7.91,7.95,7.95,7.93,7.92,7.86,7.83,7.84,7.86,7.87,7.98,8.00,8.04,8.05,8.06,8.10,8.14,8.17,8.16,8.06,8.05],
 [7.98,7.91,7.94,7.91,7.85,7.90,7.91,7.88,7.88,7.82,7.78,7.80,7.82,7.81,7.93,7.96,7.98,7.98,7.98,8.03,8.06,8.09,8.09,8.00],
 [7.91,7.83,7.88,7.84,7.78,7.85,7.86,7.83,7.84,7.78,7.72,7.76,7.78,7.75,7.87,7.92,7.92,7.91,7.90,7.95,7.98,8.01,8.02,7.93,7.93]
];
const AUGUST_BED1_DO = [
 [7.6,7.5,7.4,7.2,7.0,6.8,6.8,7.0,7.4,8.0,9.0,10.5,11.5,11.8,10.5,11.8,12.0,12.0,11.5,9.0,8.0,7.8,7.8,8.0,8.2],
 [8.0,7.8,7.6,7.4,7.2,7.0,7.0,7.2,7.6,8.4,9.6,11.0,11.8,12.0,12.0,12.0,12.0,11.8,11.0,9.6,8.8,8.6,8.6,8.6],
 [8.4,8.2,8.0,7.6,7.2,7.0,6.8,6.8,7.2,8.0,9.8,11.4,12.0,12.0,12.0,12.0,11.8,11.2,10.4,9.8,9.4,9.2,9.0,9.0,8.8],
 [8.6,8.4,8.0,7.4,6.8,6.4,6.2,6.4,7.0,7.8,9.6,11.4,11.8,11.8,11.6,11.4,11.0,10.6,10.0,9.6,9.2,9.0,8.8,8.8],
 [8.0,7.6,7.4,7.0,6.4,6.0,5.8,6.0,6.6,7.6,9.0,10.8,11.4,11.2,10.8,10.4,10.0,9.6,9.2,9.0,8.8,8.6,8.4,8.4,8.2],
 [7.2,6.8,6.6,6.2,5.6,5.2,5.4,5.8,6.4,7.4,8.4,9.6,10.4,10.0,9.6,9.4,9.2,9.0,8.8,8.6,8.4,8.2,8.0,7.6],
 [6.4,6.0,6.2,5.6,5.0,4.6,5.4,5.8,6.4,7.2,7.8,8.4,8.8,8.6,8.4,8.6,8.8,8.8,8.6,8.6,8.4,8.2,7.8,7.0,7.0]
];
const AUGUST_BED1_PH_Q = [
 [8.28,8.27,8.22,8.21,8.14,8.13,8.12,8.12,8.05,8.01,8.02,7.99,8.01,8.07,8.18,8.15,8.24,8.31,8.34,8.37,8.42,8.45,8.40,8.29],
 [8.21,8.19,8.16,8.14,8.08,8.08,8.07,8.07,8.01,7.97,7.97,7.95,7.97,8.01,8.12,8.11,8.18,8.24,8.26,8.30,8.34,8.37,8.33,8.23],
 [8.15,8.11,8.10,8.08,8.01,8.03,8.03,8.02,7.98,7.93,7.92,7.91,7.93,7.96,8.07,8.07,8.13,8.17,8.18,8.22,8.26,8.29,8.26,8.16],
 [8.08,8.03,8.04,8.01,7.95,7.98,7.98,7.96,7.94,7.89,7.86,7.87,7.89,7.90,8.01,8.03,8.07,8.09,8.10,8.14,8.18,8.21,8.20,8.10],
 [8.01,7.95,7.97,7.94,7.88,7.93,7.93,7.91,7.90,7.84,7.81,7.82,7.84,7.84,7.96,7.98,8.01,8.02,8.02,8.07,8.10,8.13,8.13,8.03],
 [7.95,7.87,7.91,7.88,7.82,7.88,7.89,7.86,7.86,7.80,7.75,7.78,7.80,7.78,7.90,7.94,7.95,7.95,7.94,7.99,8.02,8.05,8.06,7.97]
];
const AUGUST_BED1_DO_Q = [
 [7.8,7.7,7.5,7.3,7.1,6.9,6.9,7.1,7.5,8.2,9.3,10.8,11.7,11.9,11.3,11.9,12.0,11.9,11.3,9.3,8.4,8.2,8.2,8.3],
 [8.2,8.0,7.8,7.5,7.2,7.0,6.9,7.0,7.4,8.2,9.7,11.2,11.9,12.0,12.0,12.0,11.9,11.5,10.7,9.7,9.1,8.9,8.8,8.8],
 [8.5,8.3,8.0,7.5,7.0,6.7,6.5,6.6,7.1,7.9,9.7,11.4,11.9,11.9,11.8,11.7,11.4,10.9,10.2,9.7,9.3,9.1,8.9,8.9],
 [8.3,8.0,7.7,7.2,6.6,6.2,6.0,6.2,6.8,7.7,9.3,11.1,11.6,11.5,11.2,10.9,10.5,10.1,9.6,9.3,9.0,8.8,8.6,8.6],
 [7.6,7.2,7.0,6.6,6.0,5.6,5.6,5.9,6.5,7.5,8.7,10.2,10.9,10.6,10.2,9.9,9.6,9.3,9.0,8.8,8.6,8.4,8.2,8.0],
 [6.8,6.4,6.4,5.9,5.3,4.9,5.4,5.8,6.4,7.3,8.1,9.0,9.6,9.3,9.0,9.0,9.0,8.9,8.7,8.6,8.4,8.2,7.9,7.3]
];
const AUGUST_BED1_EXTRA = [[10.0,7.68,7.8],[10.2,7.72,7.6],[21.0,8.52,7.6],[20.6,8.48,7.8]];
const AUGUST_BED2_PH = [
 [8.36,8.33,8.32,8.30,8.20,8.17,8.18,8.15,8.28,8.26,8.30,8.34,8.36,8.48,8.57,8.59,8.61,8.62,8.64,8.61,8.56,8.48,8.41,8.39,8.35],
 [8.30,8.26,8.26,8.24,8.16,8.12,8.12,8.10,8.20,8.22,8.26,8.29,8.32,8.42,8.52,8.55,8.56,8.57,8.58,8.56,8.50,8.43,8.37,8.34],
 [8.24,8.20,8.19,8.16,8.08,8.04,8.03,8.02,8.07,8.13,8.20,8.24,8.27,8.32,8.36,8.38,8.38,8.36,8.38,8.40,8.40,8.36,8.30,8.27,8.24],
 [8.18,8.14,8.11,8.07,7.99,7.94,7.93,7.93,7.96,8.03,8.13,8.19,8.23,8.27,8.30,8.31,8.30,8.29,8.31,8.32,8.30,8.25,8.18,8.14],
 [8.12,8.07,8.03,7.97,7.90,7.85,7.84,7.84,7.86,7.93,8.05,8.12,8.17,8.22,8.24,8.24,8.23,8.22,8.24,8.24,8.20,8.14,8.07,8.03,7.98],
 [8.06,8.00,7.95,7.88,7.81,7.76,7.75,7.75,7.76,7.85,7.97,8.05,8.11,8.17,8.18,8.18,8.17,8.16,8.17,8.16,8.12,8.05,7.98,7.93],
 [8.00,7.94,7.88,7.80,7.72,7.66,7.66,7.66,7.66,7.74,7.88,7.98,8.04,8.11,8.14,8.15,8.13,8.14,8.13,8.10,8.05,7.98,7.91,7.86,7.80],
 [7.99,7.93,7.87,7.76,7.66,7.59,7.59,7.62,7.57,7.59,7.80,7.90,7.98,8.05,8.13,8.15,8.12,8.15,8.12,8.08,8.03,7.98,7.91,7.85]
];
const AUGUST_BED2_DO = [
 [7.8,7.6,7.6,7.6,5.8,5.2,5.0,5.4,7.6,7.8,8.4,9.4,11.0,12.0,12.0,12.0,12.0,12.0,12.0,12.0,12.0,12.0,10.0,9.4,9.2],
 [10.6,10.4,10.0,9.2,6.0,5.4,5.2,5.4,6.8,7.2,8.0,9.6,11.2,12.0,12.0,12.0,12.0,12.0,12.0,12.0,12.0,11.8,10.8,10.2],
 [11.0,10.8,10.4,9.6,8.0,7.4,7.2,7.0,6.8,7.2,8.4,10.2,11.6,12.0,12.0,12.0,12.0,12.0,12.0,11.8,11.4,11.0,10.4,9.8,9.4],
 [10.4,10.0,9.4,8.6,7.8,7.4,7.2,7.0,6.8,7.0,8.6,10.6,11.8,12.0,12.0,12.0,12.0,12.0,11.8,11.4,10.8,10.2,9.4,8.8],
 [9.4,9.0,8.6,7.8,7.4,7.2,7.0,6.8,6.6,6.8,8.4,10.6,11.6,12.0,12.0,12.0,11.8,11.8,11.4,11.0,10.2,9.4,8.6,8.0,7.6],
 [8.6,8.2,7.8,7.2,6.6,6.2,6.0,6.0,6.0,6.4,8.0,10.2,11.4,11.8,11.8,11.6,11.4,11.2,11.0,10.4,9.6,8.6,7.8,7.2],
 [8.0,7.6,7.0,6.4,5.6,5.0,4.8,4.8,4.8,5.4,7.2,9.6,11.0,11.6,11.6,11.4,11.2,11.0,10.6,9.8,8.8,7.8,7.0,6.6,6.4],
 [7.2,6.8,6.4,5.6,4.6,3.8,3.6,3.8,3.8,4.2,6.4,8.6,10.2,11.4,11.6,11.4,11.0,10.8,10.2,9.4,8.2,7.2,6.6,6.2]
];
const AUGUST_BED2_PH_Q = [
 [8.33,8.30,8.29,8.27,8.18,8.15,8.15,8.13,8.24,8.24,8.28,8.32,8.34,8.45,8.55,8.57,8.59,8.60,8.61,8.59,8.53,8.46,8.39,8.37],
 [8.27,8.23,8.23,8.20,8.12,8.08,8.08,8.06,8.14,8.18,8.23,8.27,8.30,8.35,8.39,8.41,8.41,8.39,8.41,8.43,8.43,8.39,8.34,8.31],
 [8.21,8.17,8.15,8.12,8.04,7.99,7.98,7.98,8.02,8.08,8.17,8.22,8.25,8.30,8.33,8.35,8.34,8.33,8.35,8.36,8.35,8.31,8.24,8.21],
 [8.15,8.11,8.07,8.02,7.95,7.90,7.89,7.89,7.91,7.98,8.09,8.16,8.20,8.25,8.27,8.28,8.27,8.26,8.28,8.28,8.25,8.20,8.13,8.09],
 [8.09,8.04,7.99,7.93,7.86,7.81,7.80,7.80,7.81,7.89,8.01,8.09,8.14,8.20,8.21,8.21,8.20,8.19,8.21,8.20,8.16,8.10,8.03,7.98],
 [8.03,7.97,7.92,7.84,7.77,7.71,7.71,7.71,7.71,7.80,7.93,8.02,8.08,8.14,8.16,8.17,8.15,8.15,8.15,8.13,8.09,8.02,7.95,7.90],
 [8.00,7.94,7.88,7.78,7.69,7.63,7.63,7.64,7.62,7.67,7.84,7.94,8.01,8.08,8.14,8.15,8.13,8.15,8.13,8.09,8.04,7.98,7.91,7.86]
];
const AUGUST_BED2_DO_Q = [
 [9.2,9.0,8.8,8.4,5.9,5.3,5.1,5.4,7.2,7.5,8.2,9.5,11.1,12.0,12.0,12.0,12.0,12.0,12.0,12.0,12.0,11.9,10.4,9.8],
 [10.8,10.6,10.2,9.4,7.0,6.4,6.2,6.2,6.8,7.2,8.2,9.9,11.4,12.0,12.0,12.0,12.0,12.0,12.0,11.9,11.7,11.4,10.6,10.0],
 [10.7,10.4,9.9,9.1,7.9,7.4,7.2,7.0,6.8,7.1,8.5,10.4,11.7,12.0,12.0,12.0,12.0,12.0,11.9,11.6,11.1,10.6,9.9,9.3],
 [9.9,9.5,9.0,8.2,7.6,7.3,7.1,6.9,6.7,6.9,8.5,10.6,11.7,12.0,12.0,12.0,11.9,11.9,11.6,11.2,10.5,9.8,9.0,8.4],
 [9.0,8.6,8.2,7.5,7.0,6.7,6.5,6.4,6.3,6.6,8.2,10.4,11.5,11.9,11.9,11.8,11.6,11.5,11.2,10.7,9.9,9.0,8.2,7.6],
 [8.3,7.9,7.4,6.8,6.1,5.6,5.4,5.4,5.4,5.9,7.6,9.9,11.2,11.7,11.7,11.5,11.3,11.1,10.8,10.1,9.2,8.2,7.4,6.9],
 [7.6,7.2,6.7,6.0,5.1,4.4,4.2,4.3,4.3,4.8,6.8,9.1,10.6,11.5,11.6,11.4,11.1,10.9,10.4,9.6,8.5,7.5,6.8,6.4]
];

// ---------- September ----------
const SEPTEMBER_BED1_PH = [
 [8.26,8.23,8.22,8.20,8.18,8.18,8.18,8.16,8.22,8.19,8.17,8.17,8.27,8.28,8.34,8.35,8.40,8.43,8.38,8.35,8.40,8.36,8.29,8.27,8.26],
 [8.20,8.18,8.16,8.14,8.12,8.11,8.10,8.09,8.12,8.11,8.11,8.12,8.20,8.22,8.27,8.28,8.32,8.33,8.30,8.28,8.31,8.27,8.21,8.19],
 [8.13,8.11,8.09,8.07,8.05,8.04,8.03,8.02,8.03,8.04,8.05,8.07,8.14,8.16,8.20,8.22,8.24,8.24,8.21,8.21,8.22,8.18,8.13,8.11,8.10],
 [8.06,8.04,8.02,8.00,7.98,7.97,7.95,7.95,7.95,7.96,7.98,8.01,8.07,8.10,8.13,8.16,8.16,8.14,8.12,8.12,8.12,8.08,8.04,8.02],
 [7.99,7.97,7.94,7.93,7.91,7.89,7.87,7.87,7.88,7.89,7.92,7.95,8.01,8.04,8.07,8.10,8.10,8.06,8.03,8.04,8.02,7.97,7.94,7.92,7.91],
 [7.86,7.85,7.81,7.80,7.79,7.77,7.72,7.77,7.78,7.79,7.83,7.86,7.92,7.97,8.01,8.04,8.03,7.98,7.95,7.96,7.93,7.86,7.82,7.79],
 [7.72,7.74,7.69,7.71,7.73,7.71,7.60,7.71,7.72,7.71,7.76,7.78,7.81,7.86,7.90,7.95,7.97,7.92,7.87,7.91,7.88,7.79,7.76,7.71,7.70]
];
const SEPTEMBER_BED1_DO = [
 [9.4,9.3,9.2,9.1,9.0,9.0,8.9,9.0,9.2,9.0,9.2,9.6,10.8,11.6,12.0,12.0,12.0,12.0,12.0,12.0,12.0,11.8,11.2,10.4,10.0],
 [9.0,8.9,8.8,8.7,8.6,8.5,8.4,8.4,8.5,8.6,8.9,9.4,10.4,11.2,11.6,11.8,11.8,11.8,11.6,11.6,11.4,11.0,10.4,9.8],
 [8.2,8.1,8.0,7.9,7.8,7.7,7.6,7.6,7.7,7.9,8.4,9.0,9.8,10.4,10.8,11.0,11.0,10.8,10.6,10.6,10.4,10.0,9.4,8.8,8.4],
 [7.4,7.3,7.2,7.0,6.9,6.8,6.7,6.7,6.8,7.0,7.6,8.3,9.2,9.8,10.2,10.2,10.0,9.8,9.6,9.4,9.0,8.6,8.2,7.8],
 [6.6,6.5,6.4,6.2,6.0,5.9,5.8,5.8,5.9,6.2,6.8,7.6,8.4,9.0,9.2,9.2,9.0,8.6,8.4,8.2,7.8,7.4,7.0,6.8,6.6],
 [5.8,5.6,5.4,5.3,5.2,5.0,4.6,5.0,5.2,5.5,6.0,6.6,7.2,7.8,8.0,8.0,7.8,7.4,7.2,7.0,6.6,6.2,5.8,5.6],
 [5.0,5.0,4.8,4.8,4.8,4.6,3.6,4.8,5.0,5.2,5.6,6.0,6.6,7.0,7.4,7.6,7.4,7.0,6.6,6.4,6.0,5.6,5.2,4.8,4.8]
];
const SEPTEMBER_BED1_PH_Q = [
 [8.23,8.21,8.19,8.17,8.15,8.15,8.14,8.13,8.17,8.15,8.14,8.15,8.24,8.25,8.31,8.32,8.36,8.38,8.34,8.32,8.36,8.32,8.25,8.23],
 [8.17,8.15,8.13,8.11,8.09,8.08,8.07,8.06,8.08,8.08,8.08,8.10,8.17,8.19,8.24,8.25,8.28,8.29,8.26,8.25,8.27,8.23,8.17,8.15],
 [8.10,8.08,8.06,8.04,8.02,8.01,7.99,7.99,7.99,8.00,8.02,8.04,8.11,8.13,8.17,8.19,8.20,8.19,8.17,8.17,8.17,8.13,8.09,8.07],
 [8.03,8.01,7.98,7.97,7.95,7.93,7.91,7.91,7.92,7.93,7.95,7.98,8.04,8.07,8.10,8.13,8.13,8.10,8.08,8.08,8.07,8.03,7.99,7.97],
 [7.93,7.91,7.88,7.87,7.85,7.83,7.80,7.82,7.83,7.84,7.88,7.91,7.97,8.01,8.04,8.07,8.07,8.02,7.99,8.00,7.98,7.92,7.88,7.86],
 [7.79,7.80,7.75,7.76,7.76,7.74,7.66,7.74,7.75,7.75,7.80,7.82,7.87,7.92,7.96,8.00,8.00,7.95,7.91,7.94,7.91,7.83,7.79,7.75]
];
const SEPTEMBER_BED1_DO_Q = [
 [9.2,9.1,9.0,8.9,8.8,8.8,8.7,8.7,8.9,8.8,9.1,9.5,10.6,11.4,11.8,11.9,11.9,11.9,11.8,11.8,11.7,11.4,10.8,10.1],
 [8.6,8.5,8.4,8.3,8.2,8.1,8.0,8.0,8.1,8.3,8.7,9.2,10.1,10.8,11.2,11.4,11.4,11.3,11.1,11.1,10.9,10.5,9.9,9.3],
 [7.8,7.7,7.6,7.5,7.4,7.3,7.2,7.2,7.3,7.5,8.0,8.7,9.5,10.1,10.5,10.6,10.5,10.3,10.1,10.0,9.7,9.3,8.8,8.3],
 [7.0,6.9,6.8,6.6,6.5,6.4,6.3,6.3,6.4,6.6,7.2,8.0,8.8,9.4,9.7,9.7,9.5,9.2,9.0,8.8,8.4,8.0,7.6,7.3],
 [6.2,6.1,5.9,5.8,5.6,5.5,5.2,5.4,5.6,5.9,6.4,7.1,7.8,8.4,8.6,8.6,8.4,8.0,7.8,7.6,7.2,6.8,6.4,6.2],
 [5.4,5.3,5.1,5.1,5.0,4.8,4.1,4.9,5.1,5.4,5.8,6.3,6.9,7.4,7.7,7.8,7.6,7.2,6.9,6.7,6.3,5.9,5.5,5.2]
];
const SEPTEMBER_BED1_EXTRA = [[8.3,8.24,9.2],[8.6,8.28,9.2],[8.8,8.26,9.0],[6.0,7.56,3.4]];
const SEPTEMBER_BED2_PH = [
 [8.30,8.28,8.28,8.25,8.18,8.17,8.15,8.11,8.10,8.23,8.26,8.30,8.37,8.44,8.48,8.49,8.49,8.48,8.39,8.39,8.36,8.35,8.35,8.31,8.30],
 [8.23,8.21,8.20,8.17,8.11,8.09,8.07,8.04,8.03,8.12,8.16,8.21,8.28,8.35,8.39,8.40,8.39,8.37,8.31,8.30,8.28,8.27,8.26,8.23],
 [8.16,8.14,8.12,8.09,8.03,8.00,7.98,7.96,7.95,8.03,8.07,8.12,8.19,8.26,8.30,8.31,8.31,8.29,8.24,8.23,8.21,8.20,8.19,8.16,8.15],
 [8.09,8.06,8.04,8.00,7.95,7.91,7.89,7.87,7.86,7.93,7.98,8.04,8.10,8.17,8.21,8.22,8.23,8.21,8.17,8.16,8.14,8.13,8.12,8.09],
 [8.01,7.98,7.96,7.92,7.86,7.82,7.80,7.78,7.78,7.84,7.89,7.95,8.01,8.08,8.12,8.14,8.15,8.13,8.10,8.09,8.07,8.06,8.05,8.02,8.01],
 [7.91,7.88,7.85,7.80,7.73,7.68,7.66,7.66,7.67,7.74,7.80,7.86,7.92,7.98,8.02,8.05,8.05,8.03,8.01,8.00,7.98,7.97,7.96,7.93],
 [7.82,7.78,7.75,7.69,7.63,7.58,7.56,7.58,7.58,7.64,7.68,7.73,7.78,7.83,7.86,7.88,7.94,7.92,7.90,7.90,7.88,7.86,7.85,7.83,7.81]
];
const SEPTEMBER_BED2_DO = [
 [11.8,11.8,11.6,11.0,10.0,9.4,9.0,8.6,8.0,7.6,8.4,9.6,11.0,12.0,12.0,12.0,12.0,12.0,12.0,12.0,12.0,12.0,12.0,11.8,11.8],
 [10.6,10.4,10.2,9.8,9.2,8.8,8.4,8.0,7.6,7.6,8.6,9.8,11.0,11.8,12.0,12.0,12.0,12.0,11.8,11.8,11.6,11.4,11.2,11.0],
 [9.6,9.4,9.2,8.8,8.4,8.0,7.8,7.6,7.4,7.6,8.6,9.8,10.8,11.6,11.8,11.8,11.6,11.6,11.4,11.2,11.0,10.8,10.6,10.4,10.2],
 [8.6,8.4,8.2,7.8,7.6,7.4,7.2,7.0,7.0,7.2,8.2,9.4,10.4,11.0,11.0,10.8,10.6,10.4,10.0,9.8,9.6,9.4,9.2,9.0],
 [7.6,7.4,7.2,7.0,6.8,6.6,6.4,6.4,6.4,6.6,7.4,8.4,9.2,9.6,9.6,9.4,9.2,9.0,8.8,8.6,8.4,8.2,8.0,7.8,7.6],
 [7.0,6.8,6.6,6.2,5.4,5.0,4.8,5.0,5.2,5.8,6.6,7.4,7.8,8.0,8.0,7.8,7.6,7.4,7.2,7.0,6.8,6.8,6.8,6.8],
 [6.4,6.0,5.6,4.8,4.2,3.8,3.6,3.8,4.0,4.8,5.8,6.6,7.0,7.2,7.2,7.2,7.2,7.0,6.8,6.8,6.8,6.8,6.8,6.8,6.6]
];
const SEPTEMBER_BED2_PH_Q = [
 [8.27,8.25,8.24,8.21,8.15,8.13,8.11,8.08,8.07,8.18,8.21,8.26,8.33,8.40,8.44,8.45,8.44,8.43,8.35,8.35,8.32,8.31,8.31,8.27],
 [8.20,8.18,8.16,8.13,8.07,8.05,8.03,8.00,7.99,8.08,8.12,8.17,8.24,8.31,8.35,8.36,8.35,8.33,8.28,8.27,8.25,8.24,8.23,8.20],
 [8.13,8.10,8.08,8.05,7.99,7.96,7.94,7.92,7.91,7.98,8.03,8.08,8.15,8.22,8.26,8.27,8.27,8.25,8.21,8.20,8.18,8.17,8.16,8.13],
 [8.05,8.02,8.00,7.96,7.91,7.87,7.85,7.83,7.82,7.89,7.94,8.00,8.06,8.13,8.17,8.18,8.19,8.17,8.14,8.13,8.11,8.10,8.09,8.06],
 [7.96,7.93,7.91,7.86,7.80,7.75,7.73,7.72,7.73,7.79,7.85,7.91,7.97,8.03,8.07,8.10,8.10,8.08,8.06,8.05,8.03,8.02,8.01,7.98],
 [7.87,7.83,7.80,7.75,7.68,7.63,7.61,7.62,7.63,7.69,7.74,7.80,7.85,7.91,7.94,7.97,8.00,7.98,7.96,7.95,7.93,7.92,7.91,7.88]
];
const SEPTEMBER_BED2_DO_Q = [
 [11.2,11.1,10.9,10.4,9.6,9.1,8.7,8.3,7.8,7.6,8.5,9.7,11.0,11.9,12.0,12.0,12.0,12.0,11.9,11.9,11.8,11.7,11.6,11.4],
 [10.1,9.9,9.7,9.3,8.8,8.4,8.1,7.8,7.5,7.6,8.6,9.8,10.9,11.7,11.9,11.9,11.8,11.8,11.6,11.5,11.3,11.1,10.9,10.7],
 [9.1,8.9,8.7,8.3,8.0,7.7,7.5,7.3,7.2,7.4,8.4,9.6,10.6,11.3,11.4,11.3,11.1,11.0,10.7,10.5,10.3,10.1,9.9,9.7],
 [8.1,7.9,7.7,7.4,7.2,7.0,6.8,6.7,6.7,6.9,7.8,8.9,9.8,10.3,10.3,10.1,9.9,9.7,9.4,9.2,9.0,8.8,8.6,8.4],
 [7.3,7.1,6.9,6.6,6.1,5.8,5.6,5.7,5.8,6.2,7.0,7.9,8.5,8.8,8.8,8.6,8.4,8.2,8.0,7.8,7.6,7.5,7.4,7.3],
 [6.7,6.4,6.1,5.5,4.8,4.4,4.2,4.4,4.6,5.3,6.2,7.0,7.4,7.6,7.6,7.5,7.4,7.2,7.0,6.9,6.8,6.8,6.8,6.8]
];

// ---------- build ----------
const PANELS = [
  [MAY_BED1_PH, MAY_BED1_DO, MAY_BED1_PH_Q, MAY_BED1_DO_Q, []],
  [MAY_BED2_PH, MAY_BED2_DO, MAY_BED2_PH_Q, MAY_BED2_DO_Q, []],
  [JUNE_BED1_PH, JUNE_BED1_DO, JUNE_BED1_PH_Q, JUNE_BED1_DO_Q, []],
  [JUNE_BED2_PH, JUNE_BED2_DO, JUNE_BED2_PH_Q, JUNE_BED2_DO_Q, []],
  [JULY_BED1_PH, JULY_BED1_DO, JULY_BED1_PH_Q, JULY_BED1_DO_Q, JULY_BED1_EXTRA],
  [JULY_BED2_PH, JULY_BED2_DO, JULY_BED2_PH_Q, JULY_BED2_DO_Q, JULY_BED2_EXTRA],
  [AUGUST_BED1_PH, AUGUST_BED1_DO, AUGUST_BED1_PH_Q, AUGUST_BED1_DO_Q, AUGUST_BED1_EXTRA],
  [AUGUST_BED2_PH, AUGUST_BED2_DO, AUGUST_BED2_PH_Q, AUGUST_BED2_DO_Q, []],
  [SEPTEMBER_BED1_PH, SEPTEMBER_BED1_DO, SEPTEMBER_BED1_PH_Q, SEPTEMBER_BED1_DO_Q, SEPTEMBER_BED1_EXTRA],
  [SEPTEMBER_BED2_PH, SEPTEMBER_BED2_DO, SEPTEMBER_BED2_PH_Q, SEPTEMBER_BED2_DO_Q, []]
];

// hourly traces alternate between whole and half hours; in-between traces
// are sampled at quarter hours in pairs so the rings do not line up diagonally
function buildData(ph, dox, phq, doq, extra) {
  const traces = [];
  ph.forEach((tr, k) => {
    traces.push([tr, dox[k], tr.length === HOURS.length ? HOURS : HALF_HOURS]);
    if (k < phq.length) traces.push([phq[k], doq[k], Math.floor(k / 2) % 2 === 0 ? QUARTER_HOURS : THREE_QUARTER_HOURS]);
  });
  const out = extra.slice();
  for (let j = traces.length - 1; j >= 0; j--) {
    const p = traces[j][0], d = traces[j][1], h = traces[j][2];
    p.forEach((v, i) => out.push([h[i], v, d[i]]));
  }
  return out;
}

const JET = ['#800000','#ff0000','#ff8000','#ffff00','#80ff80','#00ffff','#0080ff','#0000ff','#00008f'];
const RING = 'path://M0,-100A100,100,0,1,1,0,100A100,100,0,1,1,0,-100ZM0,-68A68,68,0,1,0,0,68A68,68,0,1,0,0,-68Z';
const FONT = '"Liberation Sans", Arial, sans-serif';
const INK = '#262626', LABEL = '#333333';
const LINE = {color: INK, width: 4};
const TICK = {color: INK, width: 3};

const COL_LEFT = [238, 1723], COL_WIDTH = [1431, 1429];
const ROW_TOP = [171, 939, 1707, 2481, 3247], ROW_HEIGHT = [530, 540, 546, 540, 547];

const grid = [], xAxis = [], yAxis = [], series = [];
PANELS.forEach((p, i) => {
  const row = Math.floor(i / 2), col = i % 2;
  grid.push({left: COL_LEFT[col], top: ROW_TOP[row], width: COL_WIDTH[col], height: ROW_HEIGHT[row]});
  const g = grid.length - 1;
  const xBase = {gridIndex: g, type: 'value', min: -0.45, max: 24.45, splitLine: {show: false},
    axisLine: {show: true, onZero: false, lineStyle: LINE}};
  xAxis.push(Object.assign({}, xBase, {position: 'bottom',
    axisTick: {show: true, inside: true, length: 14, customValues: HOUR_TICKS, lineStyle: TICK},
    axisLabel: {show: true, customValues: HOUR_TICKS, margin: 42, fontSize: 64, color: LABEL, fontFamily: FONT},
    name: row === 4 ? 'hr (EDT)' : '', nameLocation: 'middle', nameGap: 155,
    nameTextStyle: {fontSize: 64, color: INK, fontFamily: FONT}}));
  xAxis.push(Object.assign({}, xBase, {position: 'top',
    axisTick: {show: true, inside: true, length: 14, customValues: HOUR_TICKS, lineStyle: TICK},
    axisLabel: {show: false}}));
  const yBase = {gridIndex: g, type: 'value', min: 7.5, max: 8.7, splitLine: {show: false},
    axisLine: {show: true, onZero: false, lineStyle: LINE}};
  yAxis.push(Object.assign({}, yBase, {position: 'left',
    axisTick: {show: true, inside: true, length: 14, customValues: PH_TICKS, lineStyle: TICK},
    axisLabel: {show: col === 0, customValues: PH_TICKS, margin: 35, fontSize: 64, color: LABEL, fontFamily: FONT},
    name: col === 0 ? 'pH' : '', nameLocation: 'middle', nameRotate: 90, nameGap: 165,
    nameTextStyle: {fontSize: 64, color: INK, fontFamily: FONT}}));
  yAxis.push(Object.assign({}, yBase, {position: 'right',
    axisTick: {show: true, inside: true, length: 14, customValues: PH_TICKS, lineStyle: TICK},
    axisLabel: {show: false}}));
  series.push({type: 'scatter', xAxisIndex: 2 * g, yAxisIndex: 2 * g,
    data: buildData(p[0], p[1], p[2], p[3], p[4]), symbol: RING, symbolSize: 45, animation: false, z: 2,
    progressive: 0, large: false});
});

// colour bar axis frame
grid.push({left: 3587, top: 673, width: 173, height: 2430, z: 10});
const cg = grid.length - 1;
xAxis.push({gridIndex: cg, type: 'value', min: 0, max: 1, position: 'bottom', z: 10,
  axisLine: {show: true, onZero: false, lineStyle: {color: INK, width: 3}}, axisTick: {show: false}, axisLabel: {show: false}, splitLine: {show: false}});
xAxis.push({gridIndex: cg, type: 'value', min: 0, max: 1, position: 'top', z: 10,
  axisLine: {show: true, onZero: false, lineStyle: {color: INK, width: 3}}, axisTick: {show: false}, axisLabel: {show: false}, splitLine: {show: false}});
yAxis.push({gridIndex: cg, type: 'value', min: 0, max: 12, interval: 2, position: 'right', z: 10,
  axisLine: {show: true, onZero: false, lineStyle: {color: INK, width: 3}},
  axisTick: {show: true, inside: true, length: 20, lineStyle: TICK},
  axisLabel: {show: true, margin: 32, fontSize: 64, color: LABEL, fontFamily: FONT}, splitLine: {show: false}});
yAxis.push({gridIndex: cg, type: 'value', min: 0, max: 12, position: 'left', z: 10,
  axisLine: {show: true, onZero: false, lineStyle: {color: INK, width: 3}}, axisTick: {show: false}, axisLabel: {show: false}, splitLine: {show: false}});

const graphic = [];
BEDS.forEach((t, c) => graphic.push({type: 'text', x: [930, 2418][c], y: 72,
  style: {text: t, font: 'bold 118px "Open Sans", sans-serif', fill: '#000', align: 'center', verticalAlign: 'middle', textAlign: 'center', textVerticalAlign: 'middle'}}));
MONTHS.forEach((m, r) => graphic.push({type: 'text', x: 3196, y: [448, 1223, 1998, 2765, 3545][r],
  style: {text: m, font: '62px "Liberation Sans", Arial, sans-serif', fill: INK, align: 'left', verticalAlign: 'middle', textAlign: 'left', textVerticalAlign: 'middle'}}));
graphic.push({type: 'text', x: 3673, y: 535, style: {text: 'DO', font: '63px "Liberation Sans", Arial, sans-serif', fill: INK, align: 'center', verticalAlign: 'middle', textAlign: 'center', textVerticalAlign: 'middle'}});
graphic.push({type: 'text', x: 3673, y: 625, style: {text: '(mg/L)', font: '63px "Liberation Sans", Arial, sans-serif', fill: INK, align: 'center', verticalAlign: 'middle', textAlign: 'center', textVerticalAlign: 'middle'}});

const chart = echarts.init(document.getElementById('chart'), null, {renderer: 'canvas'});
chart.setOption({
  animation: false,
  backgroundColor: '#ffffff',
  grid, xAxis, yAxis, series, graphic,
  visualMap: {type: 'continuous', min: 0, max: 12, dimension: 2, seriesIndex: [0,1,2,3,4,5,6,7,8,9],
    orient: 'vertical', left: 3587, top: 673, itemWidth: 173, itemHeight: 2430, padding: 0,
    calculable: false, realtime: false, hoverLink: false, text: null, showLabel: false,
    inRange: {color: JET}, z: 4}
});
</script></body></html>
